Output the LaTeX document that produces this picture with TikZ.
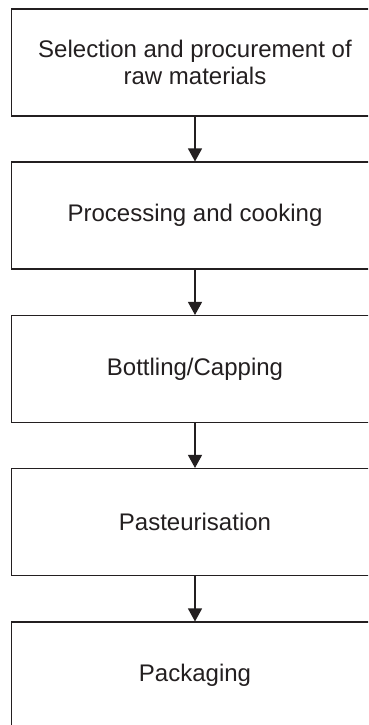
\documentclass[tikz,border=0pt]{standalone}
\usepackage{fontspec}
\setmainfont{Liberation Sans}
\usetikzlibrary{arrows.meta}
\definecolor{ink}{HTML}{231F20}
\tikzset{
  stage/.style={draw=ink, line width=1.1pt, fill=white, text=ink,
    minimum width=367pt, minimum height=107pt, inner sep=0pt,
    align=center, font=\fontsize{24}{27.6}\selectfont},
  flow/.style={draw=ink, line width=1.2pt,
    -{Triangle[width=14pt,length=13pt]}}
}
\begin{document}
\begin{tikzpicture}[x=1pt,y=-1pt]
  \useasboundingbox (0,0) rectangle (368,725);
  \fill[white] (0,0) rectangle (368,725);
  \clip (0,0) rectangle (368,725);
  \node[stage] (s1) at (195,62.5)  {Selection and procurement of\\raw materials};
  \node[stage] (s2) at (195,215.5) {Processing and cooking};
  \node[stage] (s3) at (195,369)   {Bottling/Capping};
  \node[stage] (s4) at (195,522)   {Pasteurisation};
  \node[stage] (s5) at (195,675.5) {Packaging};
  \draw[flow] (s1.south) -- (s2.north);
  \draw[flow] (s2.south) -- (s3.north);
  \draw[flow] (s3.south) -- (s4.north);
  \draw[flow] (s4.south) -- (s5.north);
\end{tikzpicture}
\end{document}
